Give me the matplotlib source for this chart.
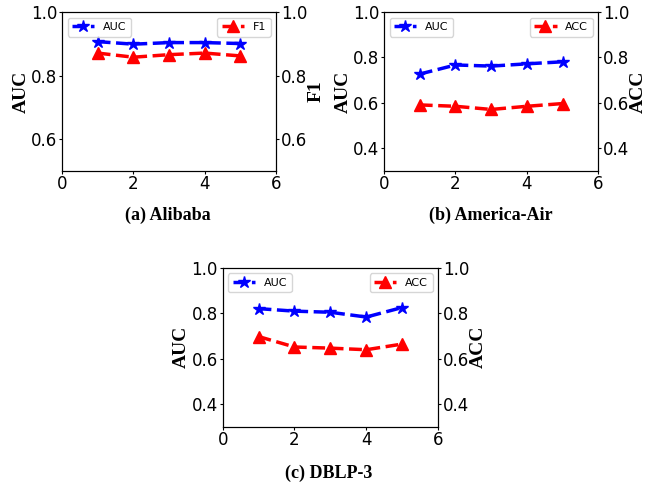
import numpy as np
import matplotlib
matplotlib.use("Agg")
import matplotlib.pyplot as plt

# values
x = [1, 2, 3, 4, 5]

alibaba_auc = [0.907, 0.899, 0.904, 0.904, 0.901]
alibaba_f1 = [0.871, 0.858, 0.866, 0.871, 0.862]

america_auc = [0.727, 0.767, 0.762, 0.772, 0.781]
america_acc = [0.591, 0.585, 0.571, 0.585, 0.597]

dblp_auc = [0.820, 0.809, 0.804, 0.783, 0.825]
dblp_acc = [0.697, 0.651, 0.646, 0.639, 0.664]

captions = ["(a) Alibaba", "(b) America-Air", "(c) DBLP-3"]
right_names = ["F1", "ACC", "ACC"]

serif = "Liberation Serif"

fig = plt.figure(figsize=(6.51, 4.83), dpi=100)

# axes boxes in figure fractions
boxes = [
    [0.0952, 0.646, 0.329, 0.329],
    [0.590, 0.646, 0.329, 0.329],
    [0.342, 0.1166, 0.331, 0.329],
]
ylims = [(0.5, 1.0), (0.3, 1.0), (0.3, 1.0)]
yticks = [[0.6, 0.8, 1.0], [0.4, 0.6, 0.8, 1.0], [0.4, 0.6, 0.8, 1.0]]
caption_pos = [(168, 215), (491, 215), (329, 473)]

series = [
    (alibaba_auc, alibaba_f1),
    (america_auc, america_acc),
    (dblp_auc, dblp_acc),
]

for i, (auc, other) in enumerate(series):
    ax = fig.add_axes(boxes[i])
    ax2 = ax.twinx()

    ax.plot(x, auc, "--", color="blue", marker="*", markersize=9, linewidth=2.5, label="AUC")
    ax2.plot(x, other, "--", color="red", marker="^", markersize=8, linewidth=2.5, label=right_names[i])

    ax.set_xlim(0, 6)
    ax.set_xticks([0, 2, 4, 6])
    for a in (ax, ax2):
        a.set_ylim(*ylims[i])
        a.set_yticks(yticks[i])
        a.tick_params(axis="y", labelsize=12, length=2, pad=1.5)
    ax.tick_params(axis="x", labelsize=12, length=2, pad=1)

    # y labels placed where the reference has them
    ax.set_ylabel("AUC", fontfamily=serif, fontweight="bold", fontsize=14)
    ax2.set_ylabel(right_names[i], fontfamily=serif, fontweight="bold", fontsize=14)
    ax.yaxis.label.set_verticalalignment("center")
    ax2.yaxis.label.set_verticalalignment("center")
    ax.yaxis.set_label_coords(-0.19, 0.5)
    ax2.yaxis.set_label_coords(1.185, 0.5)

    ax.legend(loc="upper left", fontsize=8)
    ax2.legend(loc="upper right", fontsize=8)

    cx, cy = caption_pos[i]
    fig.text(cx / 651, 1 - cy / 483, captions[i], ha="center", va="center",
             fontfamily=serif, fontweight="bold", fontsize=13)

fig.savefig("out.png", dpi=100)
